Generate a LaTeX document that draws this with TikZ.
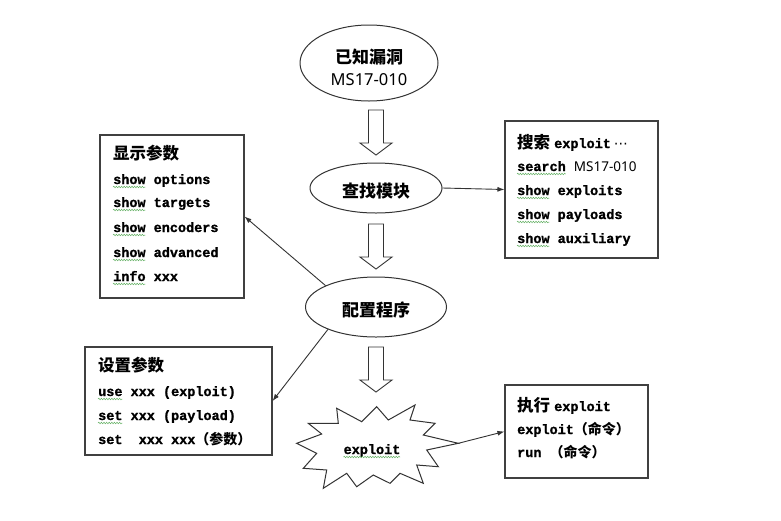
\documentclass[tikz,border=0pt]{standalone}
\usepackage{fontspec}
\usetikzlibrary{shapes.geometric,arrows.meta,decorations.pathmorphing}
\newfontfamily\mono{Liberation Mono}[BoldFeatures={FakeBold=1.2}]
\newfontfamily\cjk{Noto Sans CJK SC}
\newfontfamily\nsans{Noto Sans}
\newfontfamily\dvfont{DejaVu Sans}
\newcommand\zh[2][14]{{\cjk\fontsize{#1}{#1}\selectfont #2}}
\tikzset{
  ell/.style={ellipse,draw=black!80,line width=1pt,inner sep=0pt},
  box/.style={rectangle,draw=black!75,line width=1.1pt,inner sep=0pt},
  txt/.style={inner sep=0pt,anchor=base west,font=\mono\bfseries\fontsize{13.5}{16}\selectfont},
  etxt/.style={inner sep=0pt,font=\cjk\bfseries\fontsize{17}{17}\selectfont},
  conn/.style={draw=black!80,line width=0.9pt,-{Latex[length=7pt,width=5pt]}},
  squig/.style={draw=green!50!black!60,line width=0.5pt,decorate,decoration={snake,amplitude=0.8pt,segment length=2.6pt}},
  blockarrow/.pic={\draw[draw=black!80,line width=0.9pt,fill=white]
     (-7.5,0) -- (7.5,0) -- (7.5,33) -- (16,33) -- (0,45) -- (-16,33) -- (-7.5,33) -- cycle;}
}
\begin{document}
\begin{tikzpicture}[x=1pt,y=-1pt]
\useasboundingbox (0,0) rectangle (781,520);
\fill[white] (0,0) rectangle (781,520);

% ellipses
\node[ell,minimum width=138pt,minimum height=76pt] (e1) at (369,63) {};
\node[etxt] (t1a) at (369,57) {已知漏洞};
\node[inner sep=0pt,font=\nsans\fontsize{16.5}{16.5}\selectfont] (t1b) at (369,80) {MS17-010};

\node[ell,minimum width=132pt,minimum height=50pt] (e2) at (376,188) {};
\node[etxt] (t2) at (376,191) {查找模块};

\node[ell,minimum width=141pt,minimum height=60pt] (e3) at (376,307) {};
\node[etxt] (t3) at (376,310) {配置程序};

% block arrows
\pic at (376,110) {blockarrow};
\pic at (376,224) {blockarrow};
\pic at (376,347) {blockarrow};

% starburst
\draw[draw=black!80,line width=1pt,fill=white]
 (296.7,443.3) -- (321.7,434) -- (308.3,423.3) -- (338.3,423.3) -- (336.7,408.3)
 -- (361.7,421.7) -- (376.7,406.7) -- (388.3,420) -- (415,405) -- (410,420)
 -- (435,423.3) -- (423.3,435) -- (458.3,443.3) -- (426.7,450) -- (438.3,466.7)
 -- (416.7,465) -- (423.3,483.3) -- (400,473.3) -- (390,483.3) -- (373.3,475)
 -- (356.7,486.7) -- (346.7,473.3) -- (323.3,488.3) -- (326.7,470) -- (303.3,468.3)
 -- (316.7,453.3) -- cycle;
\node[txt,anchor=base] (ex) at (372,454) {exploit};
\coordinate (tip) at (458.3,443.3);

% boxes
\node[box,minimum width=144pt,minimum height=163pt] (lt) at (172,216.5) {};
\node[txt] (lt0) at (113,159) {\zh[16.5]{显示参数}};
\node[txt] (lt1) at (113,184) {show options};
\node[txt] (lt2) at (113,207) {show targets};
\node[txt] (lt3) at (113,232) {show encoders};
\node[txt] (lt4) at (113,257) {show advanced};
\node[txt] (lt5) at (113,281) {info xxx};

\node[box,minimum width=153pt,minimum height=137pt] (rt) at (581.5,189.5) {};
\node[txt] (rt0) at (517,148) {\zh[16.5]{搜索}\hspace{4pt}exploit\hspace{3pt}{\dvfont\mdseries\fontsize{14}{14}\selectfont ⋯}};
\node[txt] (rt1) at (517,171) {search {\nsans\mdseries\fontsize{13.5}{16}\selectfont MS17-010}};
\node[txt] (rt2) at (517,195) {show exploits};
\node[txt] (rt3) at (517,219) {show payloads};
\node[txt] (rt4) at (517,243) {show auxiliary};

\node[box,minimum width=187pt,minimum height=108pt] (lb) at (178.5,401) {};
\node[txt] (lb0) at (98,371) {\zh[16.5]{设置参数}};
\node[txt] (lb1) at (98,396) {use xxx (exploit)};
\node[txt] (lb2) at (98,420) {set xxx (payload)};
\node[txt] (lb3) at (98,444) {set~~xxx xxx\zh{（参数）}};

\node[box,minimum width=143pt,minimum height=93pt] (rb) at (576.5,431.5) {};
\node[txt] (rb0) at (517,411) {\zh[16.5]{执行}\hspace{4pt}exploit};
\node[txt] (rb1) at (517,434) {exploit\zh{（命令）}};
\node[txt] (rb2) at (517,457) {run \zh{（命令）}};

% squiggles
\foreach \n in {lt1,lt2,lt3,lt4,lt5,rt2,rt3,rt4}
  \draw[squig] ([yshift=-3pt]\n.base west) -- ++(32.4,0);
\draw[squig] ([yshift=-3pt]rt1.base west) -- ++(48.6,0);
\draw[squig] ([yshift=-3pt]lb1.base west) -- ++(24.3,0);
\draw[squig] ([yshift=-3pt]lb2.base west) -- ++(24.3,0);
\draw[squig] ([yshift=-3pt]ex.base west) -- ++(56.7,0);

% connectors
\draw[conn] (e2.east) -- (rt.west);
\draw[conn] (e3.157) -- (lt.east);
\draw[conn] (e3.205) -- (lb.east);
\draw[conn] (tip) -- (rb.west);
\end{tikzpicture}
\end{document}
